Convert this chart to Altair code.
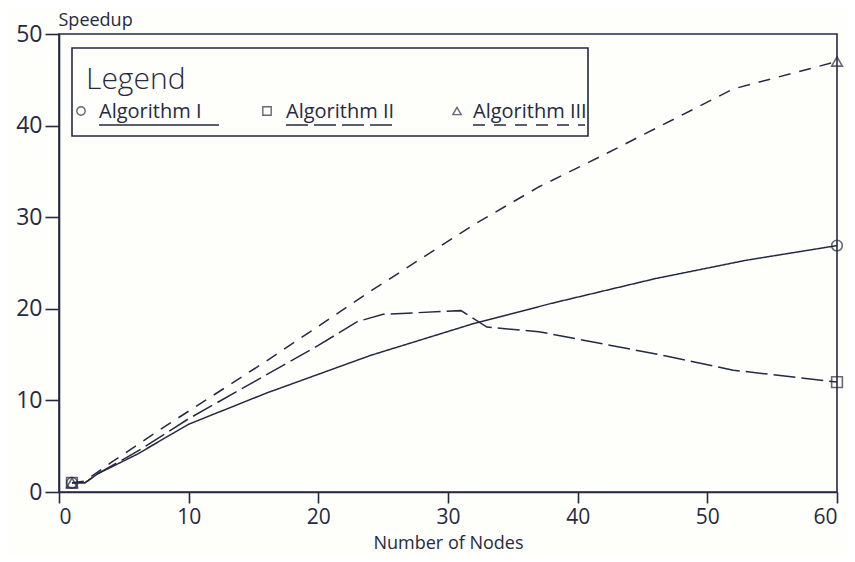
import altair as alt
import pandas as pd

INK = "#262a40"
FONT = "Open Sans"
BG = "#fefefb"

# ---- data ----
alg1_nodes = [1, 2, 3, 6, 10, 16, 24, 32, 38, 46, 53, 60]
alg1_speed = [1, 1, 2, 4.1, 7.4, 10.8, 14.9, 18.4, 20.6, 23.3, 25.3, 26.9]

alg2_nodes = [1, 2, 3, 6, 10, 15, 20, 23, 25, 31, 33, 37, 47, 52, 60]
alg2_speed = [1, 1, 2, 4.4, 8.0, 12.0, 16.0, 18.6, 19.4, 19.8, 18.0, 17.5, 14.8, 13.3, 12.0]

alg3_nodes = [1, 2, 4, 8, 16, 24, 32, 37, 42, 52, 60]
alg3_speed = [1, 1.2, 3.2, 7.0, 14.3, 21.9, 29.2, 33.3, 36.8, 44.0, 47.0]

series_names = ["Algorithm I", "Algorithm II", "Algorithm III"]
series_shapes = ["circle", "square", "triangle-up"]
series_dashes = [[1, 0], [22, 6], [12, 9]]

rows = []
for name, ns, ss in zip(series_names,
                        [alg1_nodes, alg2_nodes, alg3_nodes],
                        [alg1_speed, alg2_speed, alg3_speed]):
    for n, s in zip(ns, ss):
        rows.append({"series": name, "nodes": n, "speedup": s})
df = pd.DataFrame(rows)

x_enc = alt.X("nodes:Q", scale=alt.Scale(domain=[0, 60], nice=False),
              axis=alt.Axis(values=[0, 10, 20, 30, 40, 50, 60], title="Number of Nodes",
                            grid=False, tickSize=11, labelPadding=3, titlePadding=7,
                            labelFontSize=21, titleFontSize=18))
y_enc = alt.Y("speedup:Q", scale=alt.Scale(domain=[0, 50], nice=False),
              axis=alt.Axis(values=[0, 10, 20, 30, 40, 50], title="Speedup",
                            grid=False, tickSize=14, labelPadding=3,
                            labelFontSize=23, titleFontSize=18, titleAngle=0,
                            titleAlign="left", titleX=-1, titleY=-14,
                            titleBaseline="middle"))

lines = alt.Chart(df).mark_line(strokeWidth=1.5, color=INK).encode(
    x=x_enc, y=y_enc,
    strokeDash=alt.StrokeDash("series:N", scale=alt.Scale(domain=series_names, range=series_dashes),
                              legend=None),
    detail="series:N",
)

ends = alt.Chart(df).transform_filter("datum.nodes == 1 || datum.nodes == 60").mark_point(
    filled=False, size=115, strokeWidth=1.6, color=INK).encode(
    x="nodes:Q", y="speedup:Q",
    shape=alt.Shape("series:N", scale=alt.Scale(domain=series_names, range=series_shapes),
                    legend=None),
)

# ---- hand-made legend box (positions in pixels of the plot area) ----
box = alt.Chart(pd.DataFrame({"k": [0]})).mark_rect(
    fill=BG, stroke=INK, strokeWidth=1.6).encode(
    x=alt.value(13), x2=alt.value(529), y=alt.value(14), y2=alt.value(102))

legend_title = alt.Chart(pd.DataFrame({"t": ["Legend"]})).mark_text(
    align="left", baseline="alphabetic", fontSize=30, font=FONT, color=INK,
    fontWeight=300).encode(text="t:N", x=alt.value(27), y=alt.value(55))

legend_layers = [box, legend_title]
entry_sym_x = [22, 208, 398]
entry_text_x = [40, 227, 414]
entry_line_x2 = [160, 338, 526]
for name, shape, dash, sx, tx, lx2 in zip(series_names, series_shapes, series_dashes,
                                           entry_sym_x, entry_text_x, entry_line_x2):
    one = pd.DataFrame({"label": [name]})
    legend_layers.append(alt.Chart(one).mark_point(
        shape=shape, filled=False, size=70, strokeWidth=1.4, color=INK).encode(
        x=alt.value(sx), y=alt.value(77)))
    legend_layers.append(alt.Chart(one).mark_text(
        align="left", baseline="alphabetic", fontSize=20, font=FONT, color=INK).encode(
        text="label:N", x=alt.value(tx), y=alt.value(84)))
    legend_layers.append(alt.Chart(one).mark_rule(
        strokeDash=dash, strokeWidth=1.6, color=INK).encode(
        x=alt.value(tx), x2=alt.value(lx2), y=alt.value(91)))

chart = alt.layer(lines, ends, *legend_layers).properties(
    width=778, height=458,
    autosize=alt.AutoSizeParams(type="none"),
    padding={"left": 51, "top": 26, "right": 10, "bottom": 62},
    background=BG,
).configure_view(stroke=INK, strokeWidth=1.6).configure_axis(
    domainColor=INK, tickColor=INK, labelColor=INK, titleColor=INK,
    domainWidth=1.6, tickWidth=1.6, labelFont=FONT, titleFont=FONT,
    titleFontWeight="normal",
)

chart.save("out.html", embed_options={"renderer": "svg", "actions": False})
